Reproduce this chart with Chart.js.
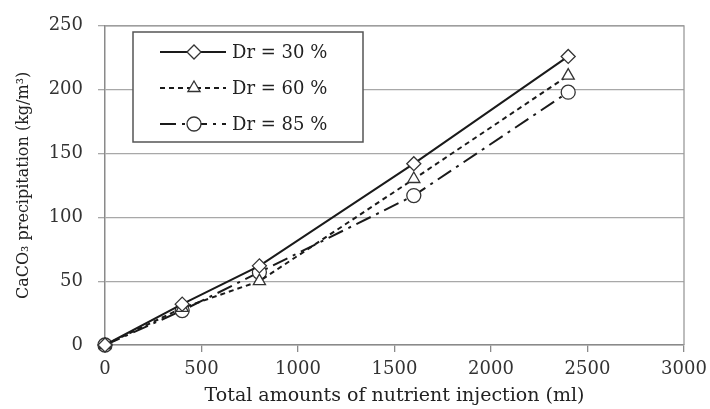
<!DOCTYPE html>
<html>
<head>
<meta charset="utf-8">
<script src="https://cdn.jsdelivr.net/npm/chart.js@4/dist/chart.umd.min.js"></script>
<style>
  html, body { margin: 0; padding: 0; background: #fff; }
  #wrap { width: 710px; height: 409px; }
</style>
</head>
<body>
<div id="wrap"><canvas id="chart" width="710" height="409"></canvas></div>
<script>
// nutrient injection amounts (ml)
const injection = [0, 400, 800, 1600, 2400];
// CaCO3 precipitation (kg/m3) per relative density
const dr30 = [0, 32, 62, 142, 226];
const dr60 = [0, 29, 50, 130, 211];
const dr85 = [0, 27, 57, 117, 198];
const seriesLabels = ['Dr = 30 %', 'Dr = 60 %', 'Dr = 85 %'];
const xTicks = [0, 500, 1000, 1500, 2000, 2500, 3000];
const yTicks = [0, 50, 100, 150, 200, 250];

const FONT = "'DejaVu Serif', 'Liberation Serif', serif";
const INK = '#1a1a1a';

function pts(ys) {
  return injection.map((x, i) => ({ x: x, y: ys[i] }));
}

function series(label, ys, dash, style, radius) {
  return {
    label: label,
    data: pts(ys),
    borderColor: INK,
    borderWidth: 2,
    borderDash: dash,
    pointStyle: style,
    pointRadius: radius,
    pointBackgroundColor: '#fff',
    pointBorderColor: '#333',
    pointBorderWidth: 1.3,
    tension: 0,
    fill: false,
    clip: false
  };
}

// box around the plot area (right and top edges)
const frame = {
  id: 'frame',
  beforeDatasetsDraw(chart) {
    const { ctx, chartArea: a } = chart;
    ctx.save();
    ctx.strokeStyle = '#9a9a9a';
    ctx.lineWidth = 1.3;
    ctx.beginPath();
    ctx.moveTo(a.left, a.top);
    ctx.lineTo(a.right, a.top);
    ctx.lineTo(a.right, a.bottom);
    ctx.stroke();
    ctx.restore();
  }
};

// legend drawn like the spreadsheet one: line sample with marker
const boxLegend = {
  id: 'boxLegend',
  afterDraw(chart) {
    const ctx = chart.ctx;
    const x0 = 133, y0 = 32, w = 230, h = 110;
    ctx.save();
    ctx.fillStyle = '#fff';
    ctx.fillRect(x0, y0, w, h);
    ctx.strokeStyle = '#555';
    ctx.lineWidth = 1.5;
    ctx.strokeRect(x0, y0, w, h);
    const rows = [52, 88, 124];
    chart.data.datasets.forEach((ds, i) => {
      const y = rows[i];
      ctx.strokeStyle = INK;
      ctx.lineWidth = 2;
      ctx.setLineDash(ds.borderDash || []);
      ctx.beginPath();
      ctx.moveTo(160, y);
      ctx.lineTo(226, y);
      ctx.stroke();
      ctx.setLineDash([]);
      ctx.fillStyle = '#fff';
      ctx.strokeStyle = '#333';
      ctx.lineWidth = 1.3;
      Chart.helpers.drawPoint(ctx, {
        pointStyle: ds.pointStyle,
        radius: ds.pointRadius,
        rotation: 0,
        borderWidth: 1.3
      }, 194, y);
      ctx.fillStyle = '#222';
      ctx.font = '18px ' + FONT;
      ctx.textBaseline = 'middle';
      ctx.fillText(ds.label, 232, y + 1);
    });
    ctx.restore();
  }
};

new Chart(document.getElementById('chart'), {
  type: 'line',
  data: {
    datasets: [
      series(seriesLabels[0], dr30, [], 'rectRot', 7),
      series(seriesLabels[1], dr60, [5, 4], 'triangle', 7),
      series(seriesLabels[2], dr85, [16, 6, 3, 6], 'circle', 7)
    ]
  },
  options: {
    responsive: false,
    animation: false,
    layout: { padding: { left: 14, right: 26, top: 22, bottom: 0 } },
    plugins: {
      legend: { display: false },
      tooltip: { enabled: false }
    },
    scales: {
      x: {
        type: 'linear',
        min: 0,
        max: 3000,
        afterBuildTicks(axis) { axis.ticks = xTicks.map(v => ({ value: v })); },
        afterFit(axis) {
          axis.height = 64;
          axis.paddingRight = 0;
          axis.paddingLeft = 0;
        },
        grid: { display: true, drawOnChartArea: false, drawTicks: true, tickLength: 7, color: '#8a8a8a', lineWidth: 1.3 },
        border: { display: true, color: '#8a8a8a', width: 1.5 },
        ticks: {
          color: '#333',
          font: { family: FONT, size: 18 },
          padding: 7,
          maxRotation: 0,
          callback: v => String(v)
        },
        title: {
          display: true,
          text: 'Total amounts of nutrient injection (ml)',
          color: '#222',
          font: { family: FONT, size: 19 },
          padding: { top: 0, bottom: 2 }
        }
      },
      y: {
        min: 0,
        max: 250,
        afterBuildTicks(axis) { axis.ticks = yTicks.map(v => ({ value: v })); },
        afterFit(axis) { axis.width = 91; },
        grid: { color: '#a8a8a8', lineWidth: 1.3, tickLength: 7 },
        border: { display: true, color: '#8a8a8a', width: 1.5 },
        ticks: {
          color: '#333',
          font: { family: FONT, size: 18 },
          padding: 15,
          callback: v => String(v)
        },
        title: {
          display: true,
          text: 'CaCO\u2083 precipitation (kg/m\u00b3)',
          color: '#222',
          font: { family: FONT, size: 16 },
          padding: { top: 0, bottom: 4 }
        }
      }
    }
  },
  plugins: [frame, boxLegend]
});
</script>
</body>
</html>
